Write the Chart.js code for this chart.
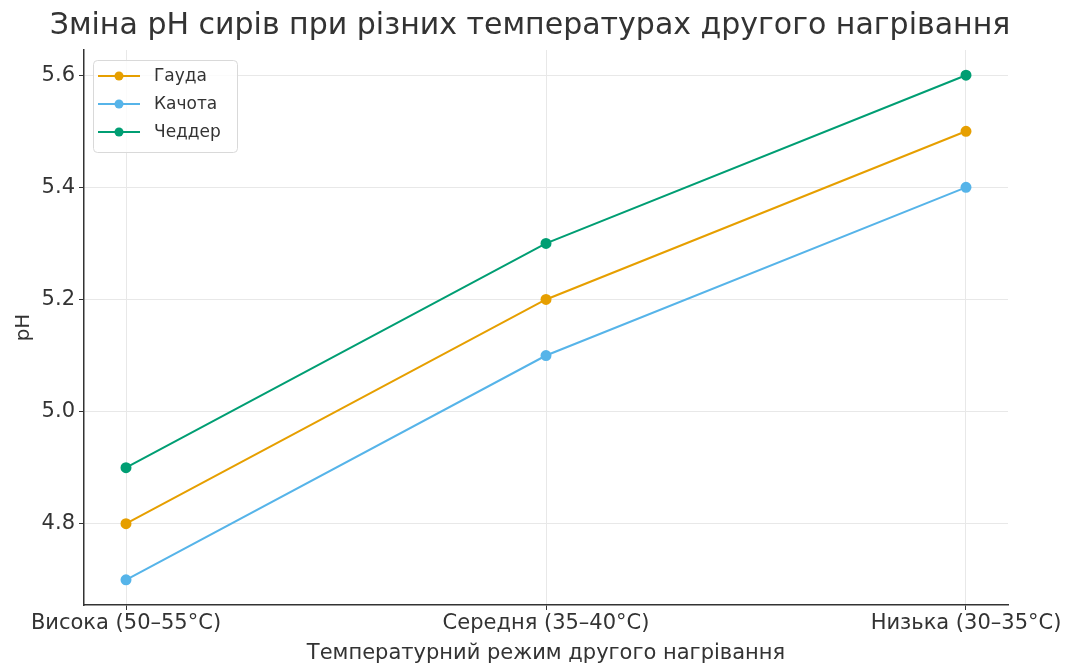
<!DOCTYPE html>
<html lang="uk">
<head>
  <meta charset="UTF-8" />
  <title>Зміна pH сирів</title>
  <script src="https://cdn.jsdelivr.net/npm/chart.js"></script>
  <style>
    html, body { margin: 0; padding: 0; background: #fff; }
    #wrap { width: 1078px; height: 666px; }
  </style>
</head>
<body>
  <div id="wrap"><canvas id="phChart" width="1078" height="666"></canvas></div>

  <script>
    // --- data ---
    const categories = ['Висока (50–55°C)', 'Середня (35–40°C)', 'Низька (30–35°C)'];
    const gouda = [4.8, 5.2, 5.5];
    const caciotta = [4.7, 5.1, 5.4];
    const cheddar = [4.9, 5.3, 5.6];
    const yTicks = [4.8, 5.0, 5.2, 5.4, 5.6];

    const titleText = 'Зміна pH сирів при різних температурах другого нагрівання';
    const FONT = "'DejaVu Sans', sans-serif";

    function series(label, values, color) {
      return {
        label,
        data: values.map((v, i) => ({ x: i, y: v })),
        borderColor: color,
        backgroundColor: color,
        borderWidth: 2,
        pointRadius: 4.5,
        pointHoverRadius: 4.5,
        tension: 0
      };
    }

    // title + legend drawn by hand (legend sits inside the plot)
    const extras = {
      id: 'extras',
      afterDraw(chart) {
        const ctx = chart.ctx;
        ctx.save();
        ctx.fillStyle = '#333';
        ctx.font = '30px ' + FONT;
        ctx.textAlign = 'center';
        ctx.textBaseline = 'middle';
        ctx.fillText(titleText, 530, 26);

        // legend box
        const x0 = 93, y0 = 60, w = 144, h = 92;
        ctx.fillStyle = 'rgba(255,255,255,0.8)';
        ctx.strokeStyle = '#d9d9d9';
        ctx.lineWidth = 1;
        ctx.beginPath();
        ctx.roundRect(x0 + 0.5, y0 + 0.5, w, h, 4);
        ctx.fill();
        ctx.stroke();

        ctx.font = '17px ' + FONT;
        ctx.textAlign = 'left';
        chart.data.datasets.forEach((ds, i) => {
          const y = 76 + i * 28;
          ctx.strokeStyle = ds.borderColor;
          ctx.lineWidth = 2;
          ctx.beginPath();
          ctx.moveTo(98, y);
          ctx.lineTo(140, y);
          ctx.stroke();
          ctx.fillStyle = ds.borderColor;
          ctx.beginPath();
          ctx.arc(119, y, 4.5, 0, Math.PI * 2);
          ctx.fill();
          ctx.fillStyle = '#333';
          ctx.fillText(ds.label, 154, y + 1);
        });
        ctx.restore();
      }
    };

    new Chart(document.getElementById('phChart'), {
      type: 'line',
      data: {
        datasets: [
          series('Гауда', gouda, '#E69F00'),
          series('Качота', caciotta, '#56B4E9'),
          series('Чеддер', cheddar, '#009E73')
        ]
      },
      options: {
        responsive: false,
        animation: false,
        layout: { padding: { top: 50, right: 70, left: 0, bottom: 0 } },
        plugins: {
          legend: { display: false },
          title: { display: false },
          tooltip: { enabled: false }
        },
        scales: {
          x: {
            type: 'linear',
            min: -0.1,
            max: 2.1,
            afterBuildTicks: s => { s.ticks = categories.map((c, i) => ({ value: i })); },
            afterFit: s => { s.height = 61; },
            ticks: {
              callback: v => categories[v],
              color: '#333',
              font: { family: FONT, size: 21 },
              padding: 1,
              maxRotation: 0
            },
            grid: { color: '#e8e8e8', tickColor: '#333', tickLength: 5 },
            border: { display: true, color: '#333', width: 1.5 },
            title: {
              display: true,
              text: 'Температурний режим другого нагрівання',
              color: '#333',
              font: { family: FONT, size: 21 },
              padding: { top: 0, bottom: 0 }
            }
          },
          y: {
            min: 4.655,
            max: 5.645,
            afterBuildTicks: s => { s.ticks = yTicks.map(v => ({ value: v })); },
            afterFit: s => { s.width = 84; },
            ticks: {
              callback: v => v.toFixed(1),
              color: '#333',
              font: { family: FONT, size: 21 },
              padding: 4
            },
            grid: { color: '#e8e8e8', tickColor: '#333', tickLength: 5 },
            border: { display: true, color: '#333', width: 1.5 },
            title: {
              display: true,
              text: 'pH',
              color: '#333',
              font: { family: FONT, size: 20 },
              padding: { top: 12, bottom: 0 }
            }
          }
        }
      },
      plugins: [extras]
    });
  </script>
</body>
</html>
